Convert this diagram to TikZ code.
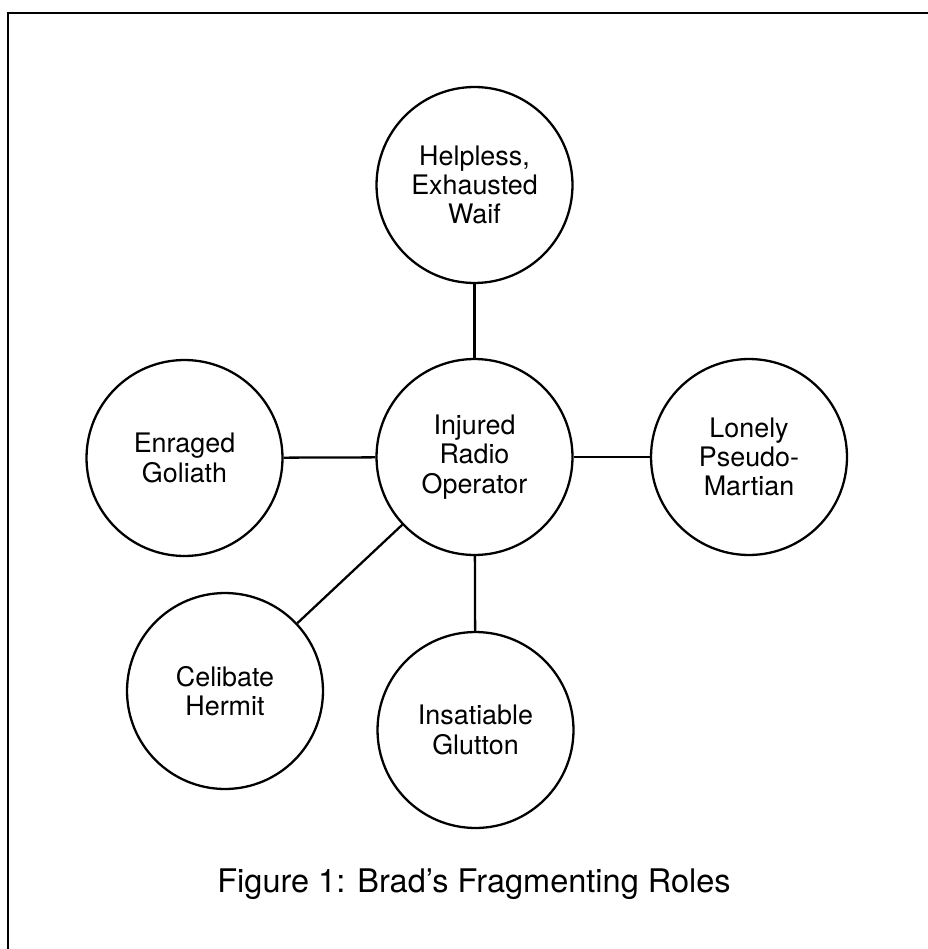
\documentclass[tikz,border=0pt]{standalone}
\usepackage{fontspec}
\setmainfont{TeX Gyre Heros}
\usepackage{tikz}

\begin{document}
\begin{tikzpicture}[x=0.02cm,y=-0.02cm,
        role/.style={circle,draw,line width=1.3pt,minimum size=3.92cm,inner sep=0pt,
            align=center,font=\fontsize{15.3}{16.6}\selectfont}]
            \useasboundingbox (0,0) rectangle (928,949);
            \draw[line width=1.3pt] (928,13) -- (8,13) -- (8,949);
            \node[role] (waif) at (474.5,185) {Helpless,\\Exhausted\\Waif};
            \node[role] (radio) at (474.5,457) {Injured\\Radio\\Operator};
            \node[role] (goliath) at (184.5,458) {Enraged\\Goliath};
            \node[role] (martian) at (749,457) {Lonely\\Pseudo-\\Martian};
            \node[role] (hermit) at (225,691) {Celibate\\Hermit};
            \node[role] (glutton) at (475.5,730) {Insatiable\\Glutton};
            \node[font=\fontsize{18.5}{20}\selectfont] (caption) at (474,884) {Figure 1: Brad’s Fragmenting Roles};
            \path[-,line width=1.3pt] (radio) edge (waif)
                (radio) edge (goliath)
                (radio) edge (martian)
                (radio) edge (hermit)
                (radio) edge (glutton);
        \end{tikzpicture}
\end{document}
